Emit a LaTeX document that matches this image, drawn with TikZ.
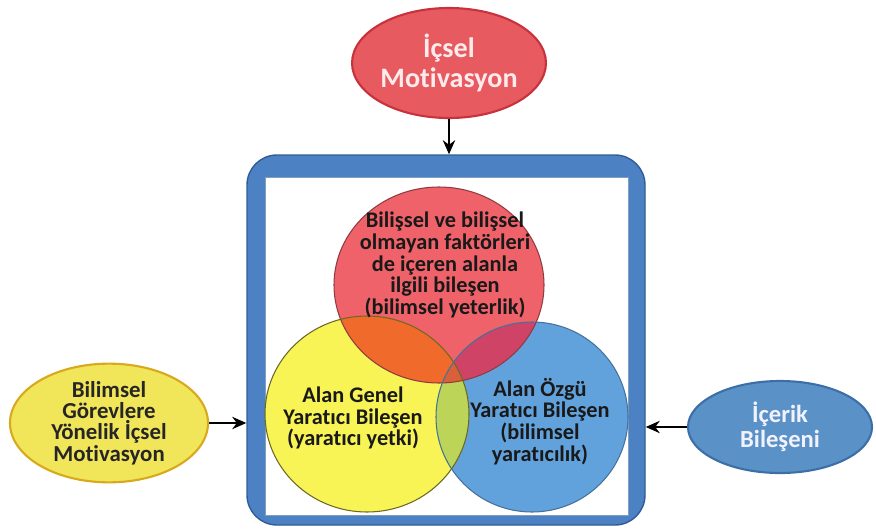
\documentclass[tikz,border=0pt]{standalone}
\usepackage{fontspec}
\setmainfont{Carlito}[RawFeature=-liga]
\usetikzlibrary{arrows.meta,positioning,shapes.geometric}
\definecolor{frameblue}{HTML}{4C82C4}
\definecolor{frameedge}{HTML}{2F5C96}
\definecolor{motivred}{HTML}{E65A60}
\definecolor{motivedge}{HTML}{C8323C}
\definecolor{gorevyel}{HTML}{F1E55A}
\definecolor{goreveedge}{HTML}{D8A91C}
\definecolor{icerikblue}{HTML}{5A92C8}
\definecolor{icerikedge}{HTML}{3C6FA8}
\definecolor{vred}{HTML}{F0626A}
\definecolor{vyellow}{HTML}{F8F455}
\definecolor{vblue}{HTML}{62A2DC}
\definecolor{vorange}{HTML}{F06A2C}
\definecolor{vcrimson}{HTML}{CF4466}
\definecolor{vgreen}{HTML}{BCD458}
\definecolor{vtriple}{HTML}{D9603A}
\tikzset{>={Stealth[length=8pt,width=7pt]},
  every node/.style={font=\bfseries},
  bubble/.style={ellipse,draw,line width=1.2pt,align=center,inner sep=0pt},
  feed/.style={->,draw=black,line width=1.2pt},
  venntext/.style={align=center,text=black!90,font=\bfseries\fontsize{12.7}{12.4}\selectfont}}
% Venn circles, in cm
\def\redc{(8.78,4.88) ellipse [x radius=2.10cm,y radius=1.96cm]}
\def\yelc{(7.34,2.30) ellipse [x radius=2.04cm,y radius=1.96cm]}
\def\bluc{(10.64,2.24) ellipse [x radius=1.92cm,y radius=1.90cm]}

\begin{document}
\begin{tikzpicture}
\useasboundingbox (0,0) rectangle (17.52,10.58);
% frame round the Venn diagram
\node[draw=frameedge,fill=frameblue,line width=.8pt,rounded corners=.6cm,
  minimum width=7.96cm,minimum height=7.40cm] (frame) at (8.92,3.78) {};
\fill[white] (5.30,0.28) rectangle (12.56,7.04);
\draw[frameedge!60,line width=.5pt] (5.30,0.28) rectangle (12.56,7.04);
% fills
\fill[vred] \redc;
\fill[vyellow] \yelc;
\fill[vblue] \bluc;
\begin{scope}\clip \redc; \fill[vorange] \yelc; \fill[vcrimson] \bluc; \end{scope}
\begin{scope}\clip \yelc; \fill[vgreen] \bluc; \end{scope}
\begin{scope}\clip \redc; \clip \yelc; \fill[vtriple] \bluc; \end{scope}
% edges
\draw[vred!60!black,line width=.6pt] \redc;
\draw[olive!70!black,line width=.6pt] \yelc;
\draw[vblue!70!black,line width=.6pt] \bluc;
\node[venntext] (bilesen) at (8.90,5.28) {Bilişsel ve bilişsel\\olmayan  faktörleri\\de içeren alanla\\ilgili bileşen\\(bilimsel yeterlik)};
\node[venntext] (genel) at (7.06,2.22) {Alan Genel\\Yaratıcı Bileşen\\(yaratıcı yetki)};
\node[venntext] (ozgu) at (10.80,2.15) {Alan Özgü\\Yaratıcı Bileşen\\(bilimsel\\yaratıcılık)};
% outer ellipses
\node[bubble,fill=motivred,draw=motivedge,text=red!8,minimum width=3.84cm,minimum height=2.20cm,
  font=\bfseries\fontsize{16}{17}\selectfont] (motiv) at (8.98,9.32) {İçsel\\Motivasyon};
\node[bubble,fill=gorevyel,draw=goreveedge,text=black!85,minimum width=3.96cm,minimum height=2.20cm,
  font=\bfseries\fontsize{13}{12.2}\selectfont] (gorev) at (2.18,2.12) {Bilimsel\\Görevlere\\Yönelik İçsel\\Motivasyon};
\node[bubble,fill=icerikblue,draw=icerikedge,text=blue!5,minimum width=3.68cm,minimum height=1.84cm,
  font=\bfseries\fontsize{14}{14.5}\selectfont] (icerik) at (15.60,2.04) {İçerik\\Bileşeni};
% arrows into the frame
\draw[feed] (motiv.south) -- (motiv.south |- frame.north);
\draw[feed] (gorev.east) -- (gorev.east -| frame.west);
\draw[feed] (icerik.west) -- (icerik.west -| frame.east);
\end{tikzpicture}
\end{document}
